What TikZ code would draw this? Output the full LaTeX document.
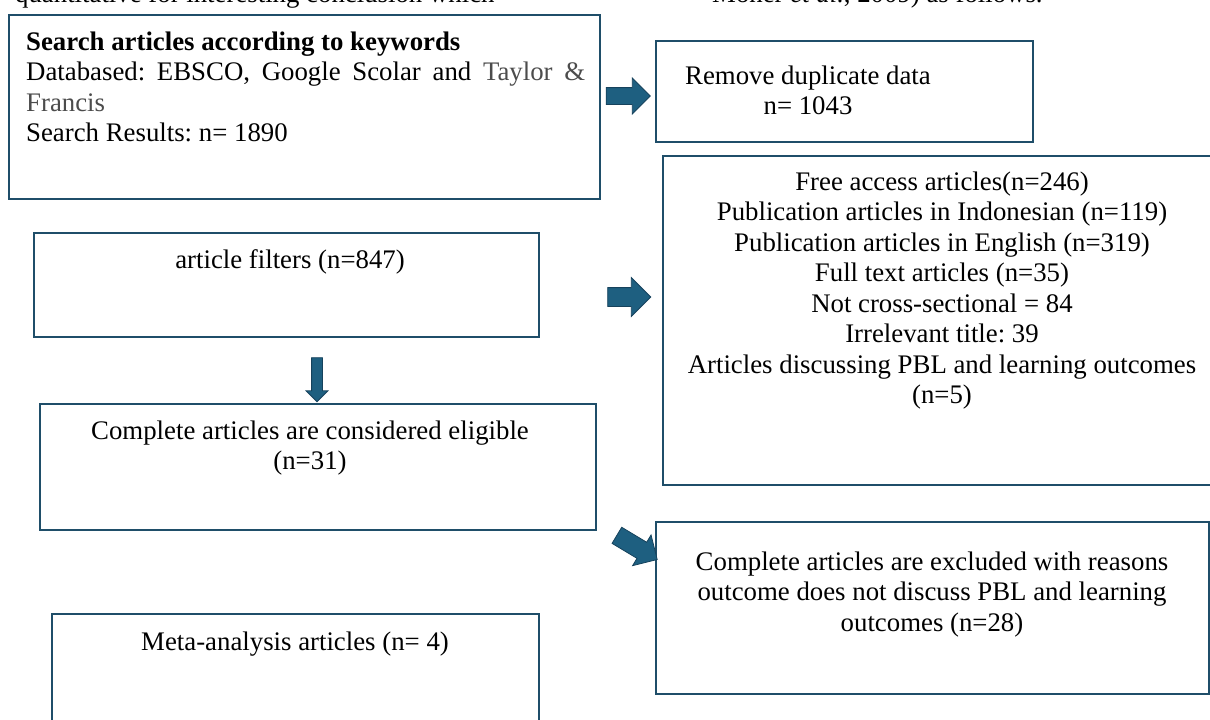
\documentclass[tikz,border=0pt]{standalone}
\usepackage{fontspec}
\setmainfont{Liberation Serif}
\usetikzlibrary{shapes.arrows}

\definecolor{boxline}{RGB}{31,78,105}
\definecolor{arrowfill}{RGB}{30,95,128}
\definecolor{arrowline}{RGB}{22,66,92}

\tikzset{
  box/.style={draw=boxline, line width=2pt, inner sep=0pt, anchor=north west},
  boxtext/.style={inner sep=0pt, anchor=north, align=center},
  blockarrow/.style={single arrow, fill=arrowfill, draw=arrowline, line width=0.8pt,
    inner xsep=0pt, single arrow head indent=0pt}
}

\begin{document}
\begin{tikzpicture}[x=1pt, y=-1pt, font=\fontsize{26.8}{30.5}\selectfont\frenchspacing]
  \useasboundingbox (0,0) rectangle (1210,720);
  \begin{scope}
    \clip (0,0) rectangle (1210,720);
    % running text of the page, cut at the top
    \node[inner sep=0pt, anchor=base west] (pagetxt1) at (15,2) {quantitative for interesting conclusion which};
    \node[inner sep=0pt, anchor=base west] (pagetxt2) at (712,2) {Moher \textit{et al.}, 2009) as follows.};

    % boxes
    \node[box, minimum width=591, minimum height=184] (search) at (8,14) {};
    \node[box, minimum width=377, minimum height=101] (dupl) at (655,40) {};
    \node[box, minimum width=560, minimum height=329] (excl) at (662,155) {};
    \node[box, minimum width=505, minimum height=104] (filter) at (33,232) {};
    \node[box, minimum width=556, minimum height=126] (eligible) at (39,403) {};
    \node[box, minimum width=553, minimum height=172] (reason) at (655,521) {};
    \node[box, minimum width=487, minimum height=120] (meta) at (51,613) {};

    % texts
    \node[inner sep=0pt, anchor=north west, text width=559, align=justify] (searchtxt) at (26,31.5)
      {\textbf{Search articles according to keywords}\\
       Databased: EBSCO, Google Scolar and {\color{black!70}Taylor \& Francis}\\
       Search Results: n= 1890};
    \node[boxtext] (dupltxt) at (808,65.5) {Remove duplicate data\\ n= 1043};
    \node[boxtext] (excltxt) at (942,171.5) {Free access articles(n=246)\\
      Publication articles in Indonesian (n=119)\\
      Publication articles in English (n=319)\\
      Full text articles (n=35)\\
      Not cross-sectional = 84\\
      Irrelevant title: 39\\
      Articles discussing PBL and learning outcomes\\
      (n=5)};
    \node[boxtext] (filtertxt) at (290,249.5) {article filters (n=847)};
    \node[boxtext] (eligibletxt) at (310,420.5) {Complete articles are considered eligible\\ (n=31)};
    \node[boxtext] (reasontxt) at (932,551.5) {Complete articles are excluded with reasons\\
      outcome does not discuss PBL and learning\\ outcomes (n=28)};
    \node[boxtext] (metatxt) at (295,631.5) {Meta-analysis articles (n= 4)};

    % block arrows
    \node[blockarrow, inner ysep=8pt, single arrow head extend=9.5pt, minimum height=44] (arr1) at (624,96) {};
    \node[blockarrow, inner ysep=9pt, single arrow head extend=10pt, minimum height=43] (arr2) at (624.5,297) {};
    \node[blockarrow, inner ysep=5pt, single arrow head extend=5.5pt, minimum height=44, rotate=-90] (arr3) at (317,377) {};
    \node[blockarrow, inner ysep=9pt, single arrow head extend=8.5pt, minimum height=47, rotate=-31] (arr4) at (633,545) {};
  \end{scope}
\end{tikzpicture}
\end{document}
